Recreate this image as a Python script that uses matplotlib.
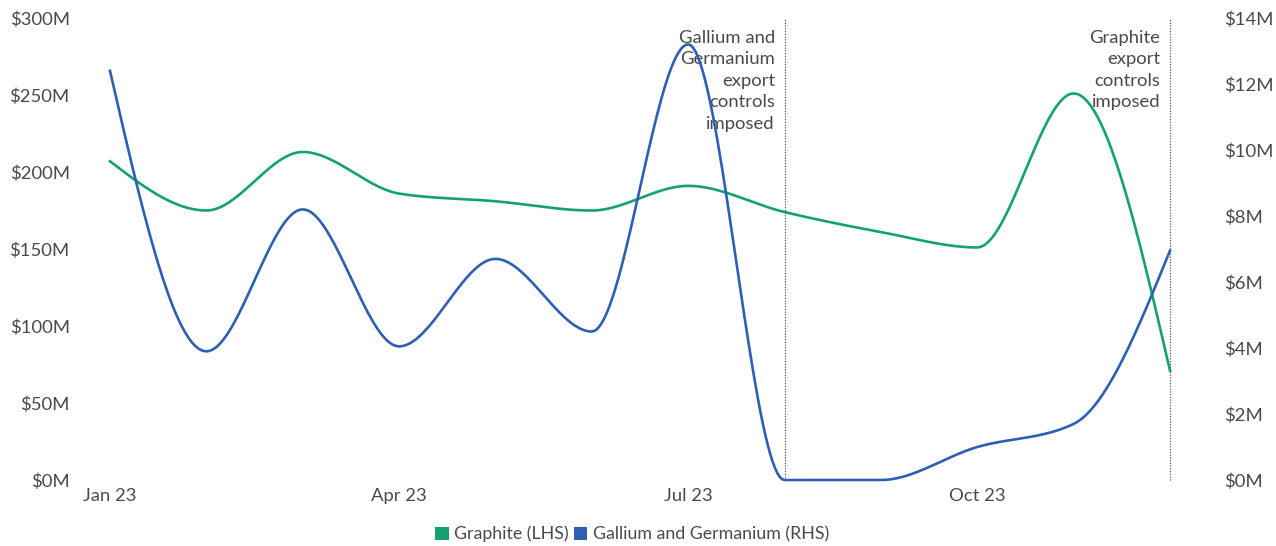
import numpy as np
import matplotlib
matplotlib.use("Agg")
import matplotlib.pyplot as plt
from matplotlib.patches import Patch

months = ["Jan 23", "Feb 23", "Mar 23", "Apr 23", "May 23", "Jun 23",
          "Jul 23", "Aug 23", "Sep 23", "Oct 23", "Nov 23", "Dec 23"]
graphite = [207, 175, 213, 186, 181, 175, 191, 174, 161, 151, 251, 71]          # $M, LHS
gallium_germanium = [12.4, 3.9, 8.2, 4.05, 6.7, 4.5, 13.2, 0.0, 0.0, 1.0, 1.7, 6.95]  # $M, RHS
tick_months = ["Jan 23", "Apr 23", "Jul 23", "Oct 23"]
left_ticks = [0, 50, 100, 150, 200, 250, 300]
right_ticks = [0, 2, 4, 6, 8, 10, 12, 14]
events = [("Aug 23", "Gallium and\nGermanium\nexport\ncontrols\nimposed"),
          ("Dec 23", "Graphite\nexport\ncontrols\nimposed")]

GREEN = "#14a271"
BLUE = "#2c60b2"
TXT = "#4a4a4a"
FS = 13.3
plt.rcParams['font.family'] = ['Lato', 'DejaVu Sans']


def monotone(x, y, n=40):
    """d3 curveMonotoneX equivalent (Steffen)."""
    x = np.asarray(x, float); y = np.asarray(y, float)
    m = len(x)
    h = np.diff(x); s = np.diff(y) / h
    t = np.zeros(m)
    for i in range(1, m - 1):
        h0, h1, s0, s1 = h[i-1], h[i], s[i-1], s[i]
        p = (s0 * h1 + s1 * h0) / (h0 + h1)
        t[i] = (np.sign(s0) + np.sign(s1)) * min(abs(s0), abs(s1), 0.5 * abs(p))
    t[0] = (3 * s[0] - t[1]) / 2
    t[-1] = (3 * s[-1] - t[-2]) / 2
    xs, ys = [], []
    for i in range(m - 1):
        u = np.linspace(0, 1, n, endpoint=(i == m - 2))
        hh = h[i]
        h00 = 2*u**3 - 3*u**2 + 1; h10 = u**3 - 2*u**2 + u
        h01 = -2*u**3 + 3*u**2; h11 = u**3 - u**2
        xs.append(x[i] + u * hh)
        ys.append(h00*y[i] + h10*hh*t[i] + h01*y[i+1] + h11*hh*t[i+1])
    return np.concatenate(xs), np.concatenate(ys)


fig = plt.figure(figsize=(12.76, 5.46), dpi=100)
W, H = 1276, 546
ax = fig.add_axes([110/W, (H-480)/H, (1170-110)/W, 462/H])
ax2 = ax.twinx()

xi = np.arange(len(months))
gx, gy = monotone(xi, graphite)
bx, by = monotone(xi, gallium_germanium)
ax.plot(gx, gy, color=GREEN, lw=1.9, clip_on=False, zorder=3)
ax2.plot(bx, by, color=BLUE, lw=1.9, clip_on=False, zorder=3)

ax.set_xlim(0, len(months) - 1)
ax.set_ylim(0, 300)
ax2.set_ylim(0, 14)
ax.set_xticks([months.index(m) for m in tick_months])
ax.set_xticklabels(tick_months)
ax.set_yticks(left_ticks)
ax.set_yticklabels([f"${v}M" for v in left_ticks])
ax2.set_yticks(right_ticks)
ax2.set_yticklabels([f"${v}M" for v in right_ticks])

for a in (ax, ax2):
    for sp in a.spines.values():
        sp.set_visible(False)
    a.tick_params(length=0, colors=TXT, labelsize=FS)
ax.tick_params(axis='y', pad=29)
ax2.tick_params(axis='y', pad=39)
ax.tick_params(axis='x', pad=6)

for mname, label in events:
    xv = months.index(mname)
    ax.axvline(xv, ymin=0, ymax=1, color="#555555", lw=0.9, ls=(0, (1, 1.2)),
               zorder=2, clip_on=False)
    ax.text(xv - 0.1, 292.5, label, ha='right', va='top', fontsize=FS,
            color=TXT, linespacing=1.43, zorder=5)

handles = [Patch(facecolor=GREEN, edgecolor='none', label="Graphite (LHS)"),
           Patch(facecolor=BLUE, edgecolor='none', label="Gallium and Germanium (RHS)")]
fig.legend(handles=handles, loc='center', bbox_to_anchor=(632/W, (H-534)/H), ncol=2,
           frameon=False, fontsize=12.8, handlelength=0.75, handleheight=0.75,
           handletextpad=0.3, columnspacing=0.3, labelcolor=TXT)

fig.savefig("out.png", dpi=100)
